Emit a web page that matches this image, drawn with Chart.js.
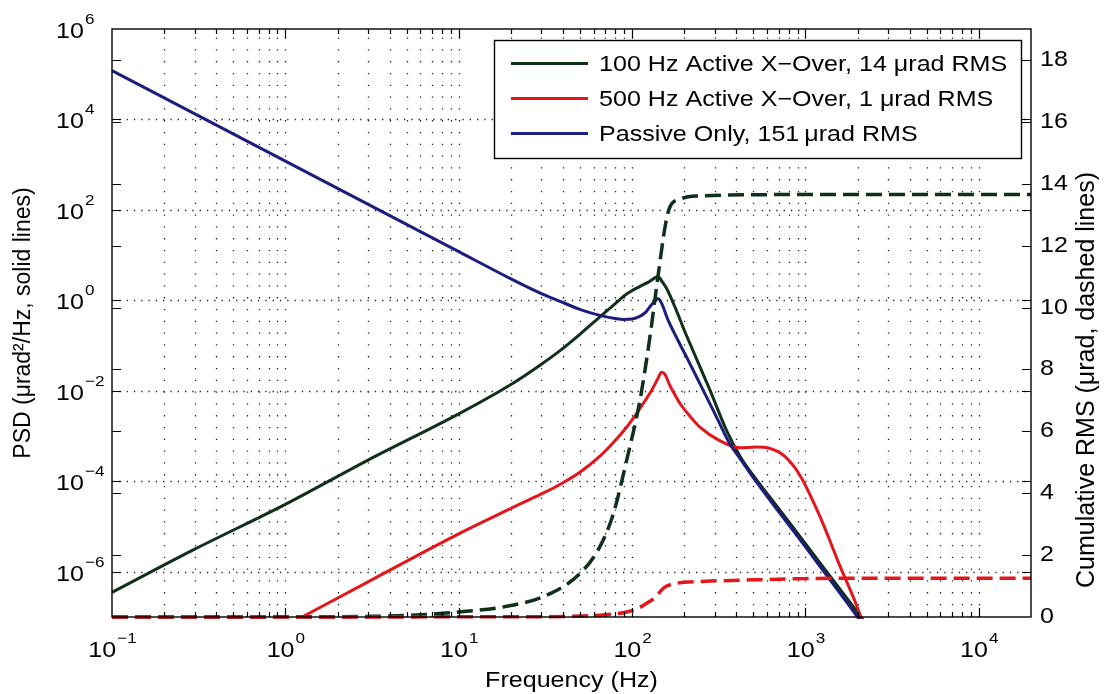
<!DOCTYPE html>
<html><head><meta charset="utf-8">
<script src="https://cdn.jsdelivr.net/npm/chart.js@4.4.1/dist/chart.umd.min.js"></script>
<style>html,body{margin:0;padding:0;background:#fff;}#wrap{width:1104px;height:694px;position:relative;}</style>
</head><body><div id="wrap"><canvas id="c" width="1104" height="694"></canvas></div>
<script>
const FONT = '"Liberation Sans", Arial, Helvetica, sans-serif';
const GREEN = '#0f3019', RED = '#e3161c', BLUE = '#1c1d7d';

// ---- solid lines: PSD (µrad²/Hz) ----
const freqActive100 = [0.1, 0.3, 1, 3, 10, 20, 30, 38.4, 50, 66.7, 80, 93, 111, 125, 141, 150, 158, 180, 200, 225, 281, 351, 420, 500, 700, 1000, 1400, 2000, 2600];
const psdActive100  = [3.5e-7, 3.16e-6, 3.09e-5, 2.95e-4, 3.09e-3, 0.0138, 0.0389, 0.0776, 0.178, 0.468, 0.851, 1.38, 2.04, 2.57, 3.31, 2.51, 1.86, 0.603, 0.219, 0.0759, 0.0105, 1.32e-3, 3.55e-4, 1.35e-4, 2.51e-5, 4.17e-6, 7.59e-7, 1.26e-7, 3.16e-8];

const freqActive500 = [1.25, 3, 10, 20, 30, 38.4, 50, 65, 78, 90, 101, 115, 130, 140, 148, 155, 165, 175, 189, 220, 246, 320, 419, 520, 620, 760, 930, 1210, 1580, 2050, 2400];
const psdActive500  = [1.0e-7, 6.0e-7, 6.9e-6, 2.51e-5, 5.25e-5, 8.5e-5, 1.58e-4, 3.55e-4, 7.24e-4, 1.35e-3, 2.4e-3, 5.0e-3, 0.0105, 0.0178, 0.0257, 0.0229, 0.0132, 8.7e-3, 5.25e-3, 2.51e-3, 1.58e-3, 7.94e-4, 5.5e-4, 5.75e-4, 5.37e-4, 3.55e-4, 1.35e-4, 1.7e-5, 1.35e-6, 1.2e-7, 1.58e-8];

const freqPassive = [0.1, 1, 10, 20, 30, 38.4, 50, 57, 70, 80, 89, 100, 110, 120, 129, 136, 141, 145, 151, 158, 165, 172, 190, 206, 246, 307, 366, 420, 500, 700, 1000, 1400, 2000, 2500];
const psdPassive  = [1.2e5, 1200, 12, 3.0, 1.41, 0.955, 0.631, 0.537, 0.437, 0.398, 0.380, 0.389, 0.437, 0.550, 0.794, 0.977, 1.10, 1.0, 0.724, 0.447, 0.302, 0.219, 0.102, 0.0562, 0.0145, 2.63e-3, 6.76e-4, 3.16e-4, 1.2e-4, 2.14e-5, 3.55e-6, 6.31e-7, 1e-7, 3.16e-8];

// ---- dashed lines: cumulative RMS (µrad) ----
const freqCum100 = [0.1, 1, 3, 5, 10, 20, 32, 50, 65, 78, 93, 111, 126, 141, 156, 165, 189, 230, 1000, 20000];
const cumRms100  = [0, 0.005, 0.02, 0.05, 0.16, 0.37, 0.70, 1.40, 2.26, 3.34, 5.06, 7.0, 8.95, 11.0, 12.7, 13.24, 13.5, 13.6, 13.65, 13.65];

const freqCum500 = [0.1, 30, 50, 70, 93, 111, 122, 134, 153, 175, 200, 250, 500, 1000, 2000, 20000];
const cumRms500  = [0, 0.01, 0.03, 0.07, 0.16, 0.31, 0.45, 0.6, 0.95, 1.08, 1.12, 1.15, 1.2, 1.24, 1.25, 1.25];

// ---- labels / ticks ----
const legendLabels = ['100 Hz Active X\u2212Over, 14 \u03bcrad RMS', '500 Hz Active X\u2212Over, 1 \u03bcrad RMS', 'Passive Only, 151\u2009\u03bcrad RMS'];
const legendColors = [GREEN, RED, BLUE];
const xTickValues = [0.1, 1, 10, 100, 1000, 10000];
const xTickExponents = ['\u22121', '0', '1', '2', '3', '4'];
const yTickValues = [1e-6, 1e-4, 1e-2, 1, 1e2, 1e4, 1e6];
const yTickExponents = ['\u22126', '\u22124', '\u22122', '0', '2', '4', '6'];
const y2TickValues = [0, 2, 4, 6, 8, 10, 12, 14, 16, 18];
const xTitle = 'Frequency (Hz)';
const yTitle = 'PSD (\u03bcrad\u00b2/Hz, solid lines)';
const y2Title = 'Cumulative RMS (\u03bcrad, dashed lines)';

const SX = 1.14; // horizontal stretch of the reference text

function pts(xs, ys) { return xs.map((x, i) => ({ x: x, y: ys[i] })); }

function minorXValues(min, max) {
  const out = [];
  for (let e = -1; e <= 4; e++) for (let m = 1; m <= 9; m++) {
    const v = m * Math.pow(10, e);
    if (v > min * 1.0001 && v < max * 0.9999) out.push({ v: v, major: m === 1 });
  }
  return out;
}

function sText(ctx, txt, x, y, align, font, sx) {
  ctx.save();
  ctx.font = font;
  const w = ctx.measureText(txt).width * sx;
  let dx = 0;
  if (align === 'center') dx = -w / 2; else if (align === 'right') dx = -w;
  ctx.translate(x + dx, y);
  ctx.scale(sx, 1);
  ctx.textAlign = 'left';
  ctx.fillText(txt, 0, 0);
  ctx.restore();
  return w;
}
function measure(ctx, txt, font, sx) { ctx.save(); ctx.font = font; const w = ctx.measureText(txt).width * sx; ctx.restore(); return w; }

const decor = {
  id: 'decor',
  beforeDatasetsDraw(chart) {
    const { ctx, chartArea: a, scales } = chart;
    const xs = scales.x, ys = scales.y;
    ctx.save();
    ctx.strokeStyle = '#222';
    ctx.lineWidth = 1.3;
    ctx.setLineDash([1.3, 10.5]);
    minorXValues(xs.min, xs.max).forEach(t => {
      const px = Math.round(xs.getPixelForValue(t.v)) + 0.5;
      ctx.beginPath(); ctx.moveTo(px, a.bottom); ctx.lineTo(px, a.top); ctx.stroke();
    });
    ctx.setLineDash([1.3, 6]);
    yTickValues.forEach(v => {
      const py = Math.round(ys.getPixelForValue(v)) + 0.5;
      if (py <= a.top + 2 || py >= a.bottom - 2) return;
      ctx.beginPath(); ctx.moveTo(a.left, py); ctx.lineTo(a.right, py); ctx.stroke();
    });
    ctx.restore();
  },
  afterDatasetsDraw(chart) {
    const { ctx, chartArea: a, scales } = chart;
    const xs = scales.x, ys = scales.y, y2 = scales.y2;
    ctx.save();
    ctx.setLineDash([]);
    ctx.strokeStyle = '#000';
    ctx.lineWidth = 1.4;
    ctx.strokeRect(a.left, a.top, a.right - a.left, a.bottom - a.top);
    ctx.lineWidth = 1.2;
    minorXValues(xs.min, xs.max).forEach(t => {
      const px = Math.round(xs.getPixelForValue(t.v)) + 0.5;
      const L = t.major ? 9 : 5;
      ctx.beginPath();
      ctx.moveTo(px, a.bottom); ctx.lineTo(px, a.bottom - L);
      ctx.moveTo(px, a.top); ctx.lineTo(px, a.top + L);
      ctx.stroke();
    });
    const yPix = yTickValues.map(v => ys.getPixelForValue(v)).concat(y2TickValues.map(v => y2.getPixelForValue(v)));
    yPix.forEach(p => {
      const py = Math.round(p) + 0.5;
      if (py <= a.top + 1 || py >= a.bottom - 1) return;
      ctx.beginPath();
      ctx.moveTo(a.left, py); ctx.lineTo(a.left + 9, py);
      ctx.moveTo(a.right, py); ctx.lineTo(a.right - 9, py);
      ctx.stroke();
    });

    ctx.fillStyle = '#000';
    ctx.textBaseline = 'alphabetic';
    const F = '22px ' + FONT, FE = '15px ' + FONT;
    xTickValues.forEach((v, i) => {
      const px = xs.getPixelForValue(v);
      const w1 = measure(ctx, '10', F, SX), w2 = measure(ctx, xTickExponents[i], FE, SX);
      const x0 = px - (w1 + w2) / 2;
      sText(ctx, '10', x0, 657, 'left', F, SX);
      sText(ctx, xTickExponents[i], x0 + w1 + 1, 643, 'left', FE, SX);
    });
    yTickValues.forEach((v, i) => {
      const py = ys.getPixelForValue(v);
      const w1 = sText(ctx, '10', 56, py + 9, 'left', F, SX);
      sText(ctx, yTickExponents[i], 56 + w1 + 1, py - 5, 'left', FE, SX);
    });
    ctx.textBaseline = 'middle';
    y2TickValues.forEach(v => {
      const py = y2.getPixelForValue(v);
      sText(ctx, String(v), 1040, py, 'left', F, SX);
    });
    sText(ctx, xTitle, (a.left + a.right) / 2, 681, 'center', F, SX);
    ctx.save();
    ctx.font = '23px ' + FONT; ctx.textAlign = 'center'; ctx.textBaseline = 'middle';
    ctx.translate(23, (a.top + a.bottom) / 2); ctx.rotate(-Math.PI / 2);
    ctx.scale(1, 1.05);
    ctx.fillText(yTitle, 0, 0);
    ctx.restore();
    ctx.save();
    ctx.font = '25px ' + FONT; ctx.textAlign = 'center'; ctx.textBaseline = 'middle';
    ctx.translate(1087, (a.top + a.bottom) / 2 + 57); ctx.rotate(-Math.PI / 2);
    ctx.scale(1, 1.0);
    ctx.fillText(y2Title, 0, 0);
    ctx.restore();

    const bx = 494, by = 40, bw = 527, bh = 118;
    ctx.fillStyle = '#fff';
    ctx.fillRect(bx, by, bw, bh);
    ctx.strokeStyle = '#000'; ctx.lineWidth = 1.4;
    ctx.strokeRect(bx + 0.5, by + 0.5, bw, bh);
    legendLabels.forEach((lab, i) => {
      const ly = 63.5 + i * 35;
      ctx.strokeStyle = legendColors[i]; ctx.lineWidth = 3;
      ctx.beginPath(); ctx.moveTo(511, ly); ctx.lineTo(588, ly); ctx.stroke();
      ctx.fillStyle = '#000';
      ctx.textBaseline = 'middle';
      sText(ctx, lab, 599, ly + 1, 'left', F, SX);
    });
    ctx.restore();
  }
};

const common = { pointRadius: 0, pointHoverRadius: 0, fill: false, cubicInterpolationMode: 'monotone', clip: 2 };

new Chart(document.getElementById('c'), {
  type: 'line',
  data: {
    datasets: [
      Object.assign({ label: 'cum500', data: pts(freqCum500, cumRms500), yAxisID: 'y2', borderColor: RED, borderWidth: 3.5, borderDash: [16, 7] }, common),
      Object.assign({ label: 'cum100', data: pts(freqCum100, cumRms100), yAxisID: 'y2', borderColor: GREEN, borderWidth: 3.5, borderDash: [16, 7] }, common),
      Object.assign({ label: legendLabels[2], data: pts(freqPassive, psdPassive), yAxisID: 'y', borderColor: BLUE, borderWidth: 3 }, common),
      Object.assign({ label: legendLabels[1], data: pts(freqActive500, psdActive500), yAxisID: 'y', borderColor: RED, borderWidth: 3 }, common),
      Object.assign({ label: legendLabels[0], data: pts(freqActive100, psdActive100), yAxisID: 'y', borderColor: GREEN, borderWidth: 3 }, common)
    ]
  },
  options: {
    responsive: false, animation: false, devicePixelRatio: 1,
    layout: { padding: { top: 29, left: 0, right: 0, bottom: 0 } },
    plugins: { legend: { display: false }, tooltip: { enabled: false } },
    events: [],
    scales: {
      x: { type: 'logarithmic', min: 0.1, max: 20000,
           afterBuildTicks(s) { s.ticks = xTickValues.map(v => ({ value: v })); },
           afterFit(s) { s.height = 77; },
           ticks: { display: false }, grid: { display: false }, border: { display: false } },
      y: { type: 'logarithmic', position: 'left', min: 1e-7, max: 1e6,
           afterBuildTicks(s) { s.ticks = yTickValues.map(v => ({ value: v })); },
           afterFit(s) { s.width = 112; },
           ticks: { display: false }, grid: { display: false }, border: { display: false } },
      y2: { type: 'linear', position: 'right', min: 0, max: 19,
            afterBuildTicks(s) { s.ticks = y2TickValues.map(v => ({ value: v })); },
            afterFit(s) { s.width = 73; },
            ticks: { display: false }, grid: { display: false }, border: { display: false } }
    }
  },
  plugins: [decor]
});
</script></body></html>
